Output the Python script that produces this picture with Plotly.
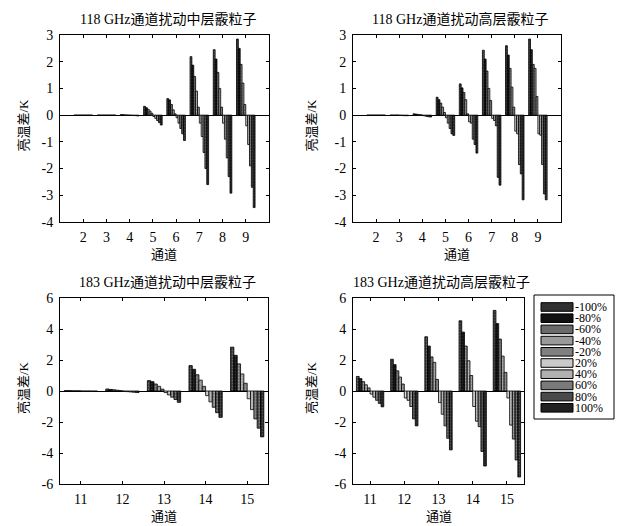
import plotly.graph_objects as go

W, H = 618, 526

series_names = ["-100%", "-80%", "-60%", "-40%", "-20%", "20%", "40%", "60%", "80%", "100%"]

ch_118 = [2, 3, 4, 5, 6, 7, 8, 9]
ch_183 = [11, 12, 13, 14, 15]

# values[channel_index][series_index]
tl_vals = [
    [0.00, 0.00, 0.00, 0.00, 0.00, 0.00, 0.00, 0.00, 0.00, 0.00],
    [0.00, 0.00, 0.00, 0.00, 0.00, 0.00, 0.00, 0.00, 0.00, 0.00],
    [0.02, 0.015, 0.01, 0.005, 0.0, -0.005, -0.01, -0.015, -0.02, -0.03],
    [0.33, 0.28, 0.22, 0.15, 0.07, -0.05, -0.12, -0.20, -0.28, -0.37],
    [0.62, 0.57, 0.40, 0.20, 0.05, -0.10, -0.30, -0.50, -0.70, -0.95],
    [2.19, 1.87, 1.45, 0.90, 0.30, -0.30, -0.80, -1.40, -2.00, -2.60],
    [2.45, 2.10, 1.60, 1.00, 0.30, -0.30, -0.90, -1.60, -2.30, -2.92],
    [2.85, 2.50, 1.90, 1.20, 0.40, -0.40, -1.10, -1.90, -2.70, -3.46],
]
tr_vals = [
    [0.00, 0.00, 0.00, 0.00, 0.00, 0.00, 0.00, 0.00, 0.00, 0.00],
    [0.00, 0.00, 0.00, 0.00, 0.00, -0.01, -0.01, -0.02, -0.02, -0.02],
    [0.05, 0.04, 0.03, 0.02, 0.01, -0.02, -0.03, -0.05, -0.06, -0.07],
    [0.67, 0.58, 0.45, 0.30, 0.10, -0.10, -0.30, -0.50, -0.70, -0.76],
    [1.17, 1.02, 0.85, 0.58, 0.05, -0.25, -0.30, -0.90, -1.10, -1.42],
    [2.43, 2.10, 1.65, 1.00, 0.55, -0.12, -0.20, -0.40, -2.33, -2.62],
    [2.60, 2.25, 1.75, 1.05, 0.30, -0.60, -0.70, -1.85, -2.20, -3.17],
    [2.85, 2.45, 1.90, 1.75, 0.70, -0.70, -0.75, -1.85, -2.95, -3.17],
]
bl_vals = [
    [0.02, 0.02, 0.01, 0.01, 0.01, -0.01, -0.01, -0.01, -0.02, -0.02],
    [0.13, 0.10, 0.08, 0.05, 0.02, -0.02, -0.04, -0.06, -0.08, -0.10],
    [0.67, 0.60, 0.45, 0.30, 0.12, -0.10, -0.25, -0.40, -0.55, -0.73],
    [1.64, 1.40, 1.05, 0.70, 0.30, -0.30, -0.70, -1.05, -1.40, -1.70],
    [2.83, 2.30, 1.75, 1.10, 0.50, -0.50, -1.20, -1.80, -2.40, -2.96],
]
br_vals = [
    [0.94, 0.80, 0.60, 0.40, 0.20, -0.20, -0.40, -0.60, -0.80, -1.02],
    [2.05, 1.70, 1.30, 0.90, 0.45, -0.45, -0.60, -1.00, -1.80, -2.25],
    [3.50, 2.90, 2.20, 1.85, 0.75, -0.75, -1.50, -2.25, -3.05, -3.80],
    [4.53, 3.80, 2.90, 1.95, 1.00, -1.00, -1.95, -2.30, -3.90, -4.84],
    [5.20, 4.35, 3.35, 2.25, 1.20, -0.45, -2.20, -3.10, -4.45, -5.55],
]

titles = ["118 GHz通道扰动中层霰粒子", "118 GHz通道扰动高层霰粒子",
          "183 GHz通道扰动中层霰粒子", "183 GHz通道扰动高层霰粒子"]
y_title = "亮温差/K"
x_title = "通道"

y118_ticks = [-4, -3, -2, -1, 0, 1, 2, 3]
y118_text = ["-4", "-3", "-2", "-1", "0", "1", "2", "3"]
y183_ticks = [-6, -4, -2, 0, 2, 4, 6]
y183_text = ["-6", "-4", "-2", "0", "2", "4", "6"]

fills = ["#303030", "#101010", "#6a6a6a", "#9a9a9a", "#808080",
         "#cacaca", "#b0b0b0", "#7a7a7a", "#4a4a4a", "#202020"]
dots = ["#a0a0a0", "#505050", "#cccccc", "#f0f0f0", "#dddddd",
        "#ffffff", "#f4f4f4", "#d0d0d0", "#b0b0b0", "#808080"]

SERIF = "Liberation Serif, Times New Roman, Noto Sans CJK SC, serif"

def px_x(p):
    return p / W

def px_y(p):
    return 1 - p / H

# plot frames in reference pixels: (x0, x1, ytop, ybottom)
frames = [(60, 269, 35, 222), (353, 561, 35, 222), (60, 268, 298, 484), (353, 524, 298, 484)]

panels = [
    (ch_118, tl_vals, [1, 10], [-4, 3], y118_ticks, y118_text),
    (ch_118, tr_vals, [1, 10], [-4, 3], y118_ticks, y118_text),
    (ch_183, bl_vals, [10.5, 15.5], [-6, 6], y183_ticks, y183_text),
    (ch_183, br_vals, [10.5, 15.5], [-6, 6], y183_ticks, y183_text),
]

fig = go.Figure()
layout = {}
annotations = []
for k, (chs, vals, xr, yr, yt, ytt) in enumerate(panels):
    idx = "" if k == 0 else str(k + 1)
    xa, ya = "x" + idx, "y" + idx
    for s, name in enumerate(series_names):
        fig.add_trace(go.Bar(
            x=chs, y=[row[s] for row in vals], name=name,
            xaxis=xa, yaxis=ya, showlegend=False,
            marker=dict(color=fills[s], line=dict(color="black", width=0.8),
                        pattern=dict(shape=".", fgcolor=dots[s], size=3, solidity=0.3)),
        ))
    x0, x1, yt0, yb0 = frames[k]
    common = dict(showline=True, linecolor="black", linewidth=1, mirror="allticks",
                  ticks="inside", ticklen=3, tickcolor="black", showgrid=False,
                  automargin=False,
                  tickfont=dict(family=SERIF, size=14, color="black"))
    layout["xaxis" + idx] = dict(domain=[px_x(x0), px_x(x1)], anchor=ya, range=xr,
                                 tickvals=chs, ticktext=[str(c) for c in chs],
                                 zeroline=False, ticklabelstandoff=2, **common)
    layout["yaxis" + idx] = dict(domain=[px_y(yb0), px_y(yt0)], anchor=xa, range=yr,
                                 tickvals=yt, ticktext=ytt, zeroline=True,
                                 zerolinecolor="black", zerolinewidth=1.2,
                                 ticklabelstandoff=3, **common)
    cx = (x0 + x1) / 2
    annotations.append(dict(text=titles[k], x=px_x(cx + 3), y=px_y(yt0 - 16),
                            xref="paper", yref="paper", showarrow=False,
                            xanchor="center", yanchor="middle",
                            font=dict(family=SERIF, size=14, color="black")))
    annotations.append(dict(text=x_title, x=px_x(cx), y=px_y(yb0 + 32),
                            xref="paper", yref="paper", showarrow=False,
                            xanchor="center", yanchor="middle",
                            font=dict(family=SERIF, size=13, color="black")))
    annotations.append(dict(text=y_title, x=px_x(x0 - (37 if k % 2 == 0 else 42)),
                            y=px_y((yt0 + yb0) / 2 - 3),
                            xref="paper", yref="paper", showarrow=False, textangle=-90,
                            xanchor="center", yanchor="middle",
                            font=dict(family=SERIF, size=13, color="black")))

# manual legend box
shapes = [dict(type="rect", xref="paper", yref="paper",
               x0=px_x(534), x1=px_x(614), y0=px_y(419), y1=px_y(295),
               line=dict(color="black", width=1), fillcolor="white")]
for s, name in enumerate(series_names):
    cy = 307 + s * 11.2
    shapes.append(dict(type="rect", xref="paper", yref="paper",
                       x0=px_x(541), x1=px_x(573), y0=px_y(cy + 4.3), y1=px_y(cy - 4.3),
                       line=dict(color="black", width=1), fillcolor=fills[s]))
    annotations.append(dict(text=name, x=px_x(574), y=px_y(cy), xref="paper", yref="paper",
                            showarrow=False, xanchor="left", yanchor="middle",
                            borderpad=0,
                            font=dict(family=SERIF, size=12, color="black")))

fig.update_layout(
    width=W, height=H, margin=dict(l=0, r=0, t=0, b=0),
    paper_bgcolor="white", plot_bgcolor="white",
    barmode="group", bargap=0.2, bargroupgap=0,
    annotations=annotations, shapes=shapes, showlegend=False,
    **layout,
)

# remove the default page margin so the 618x526 figure fills the window exactly
fig.write_html("out.html", config={"displayModeBar": False},
               post_script="document.body.style.margin='0';document.body.style.overflow='hidden';")
